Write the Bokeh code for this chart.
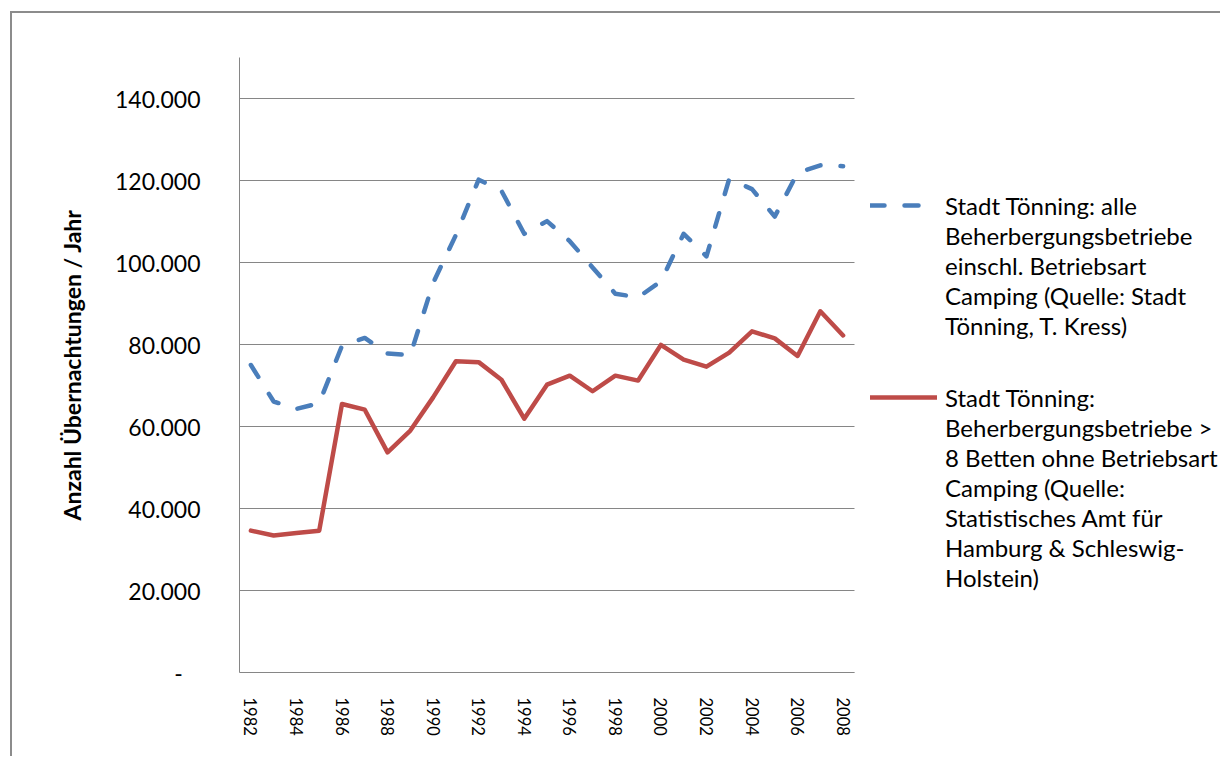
from bokeh.plotting import figure
from bokeh.models import FixedTicker, Legend, LegendItem, Range1d
from bokeh.embed import file_html
from bokeh.resources import INLINE

# ---- data ----
years = [1982, 1983, 1984, 1985, 1986, 1987, 1988, 1989, 1990, 1991, 1992, 1993, 1994,
         1995, 1996, 1997, 1998, 1999, 2000, 2001, 2002, 2003, 2004, 2005, 2006, 2007, 2008]
alle_betriebe = [75000, 66100, 64300, 65700, 79700, 81600, 77800, 77400, 95000, 106700,
                 120200, 117500, 107000, 110100, 105200, 98800, 92400, 91500, 95400, 107000,
                 101500, 120400, 117900, 111200, 121900, 123700, 123500]
ohne_camping = [34600, 33400, 34000, 34600, 65500, 64100, 53700, 59000, 67100, 75900,
                75700, 71400, 61900, 70200, 72400, 68600, 72400, 71200, 79900, 76300,
                74600, 78000, 83200, 81500, 77200, 88100, 82200]
x_tick_values = [1982, 1984, 1986, 1988, 1990, 1992, 1994, 1996, 1998, 2000, 2002, 2004, 2006, 2008]
x_tick_labels = ["1982", "1984", "1986", "1988", "1990", "1992", "1994", "1996", "1998",
                 "2000", "2002", "2004", "2006", "2008"]
y_tick_values = [0, 20000, 40000, 60000, 80000, 100000, 120000, 140000]
y_tick_labels = ["-\u00a0\u00a0\u00a0", "20.000", "40.000", "60.000", "80.000",
                 "100.000", "120.000", "140.000"]
y_title = "Anzahl Übernachtungen / Jahr"
legend_blue = ["Stadt Tönning: alle", "Beherbergungsbetriebe", "einschl. Betriebsart",
               "Camping (Quelle: Stadt", "Tönning, T. Kress)"]
legend_red = ["Stadt Tönning:", "Beherbergungsbetriebe >", "8 Betten ohne Betriebsart",
              "Camping (Quelle:", "Statistisches Amt für", "Hamburg & Schleswig-", "Holstein)"]

BLUE = "#4A7EBB"
RED = "#BE4B48"
GRID = "#868686"
FONT = "Lato"

# plot area: 27 year slots over 615 px; the frame continues to the right to hold the legend
X0, X1 = 1981.5, 2008.5
FRAME_W = 983
x_end = X0 + FRAME_W * (X1 - X0) / 615.0

p = figure(width=1210, height=745,
           x_range=Range1d(X0, x_end), y_range=Range1d(0, 150000),
           output_backend="svg", toolbar_location=None,
           min_border_left=227, min_border_right=0,
           min_border_top=44, min_border_bottom=86,
           background_fill_color="white", border_fill_color="white",
           styles={"border-left": "2px solid #8c8c8c", "border-top": "2px solid #8c8c8c",
                   "margin-left": "10px", "margin-top": "11px"})
p.outline_line_color = None

# y axis
p.yaxis.ticker = FixedTicker(ticks=y_tick_values)
p.yaxis.major_label_overrides = dict(zip(y_tick_values, y_tick_labels))
p.yaxis.major_tick_out = 0
p.yaxis.major_tick_in = 0
p.yaxis.minor_tick_out = 0
p.yaxis.minor_tick_in = 0
p.yaxis.major_label_standoff = 39
p.yaxis.axis_line_color = GRID
p.yaxis.major_label_text_font = FONT
p.yaxis.major_label_text_font_size = "23px"
p.yaxis.major_label_text_color = "#000000"
p.yaxis.axis_label = y_title
p.yaxis.axis_label_text_font = FONT
p.yaxis.axis_label_text_font_style = "bold"
p.yaxis.axis_label_text_font_size = "23px"
p.yaxis.axis_label_text_color = "#000000"
p.yaxis.axis_label_standoff = 26

# x axis: its line is limited to the plot area via bounds
p.xaxis.bounds = (X0, X1)
p.xaxis.ticker = FixedTicker(ticks=x_tick_values)
p.xaxis.major_label_overrides = dict(zip(x_tick_values, x_tick_labels))
p.xaxis.major_label_orientation = "vertical"
p.xaxis.major_tick_out = 0
p.xaxis.major_tick_in = 0
p.xaxis.minor_tick_out = 0
p.xaxis.minor_tick_in = 0
p.xaxis.major_label_standoff = 25
p.xaxis.axis_line_color = GRID
p.xaxis.axis_line_width = 1
p.xaxis.major_label_text_font = FONT
p.xaxis.major_label_text_font_size = "16.5px"
p.xaxis.major_label_text_color = "#000000"

p.xgrid.visible = False
p.ygrid.visible = False

# horizontal gridlines, limited to the plot area
n = len(y_tick_values)
p.segment(x0=[X0] * n, x1=[X1] * n, y0=y_tick_values, y1=y_tick_values,
          line_color=GRID, line_width=1)

r_blue = p.line(years, alle_betriebe, line_color=BLUE, line_width=4.5,
                line_dash="14 20", line_cap="round", line_join="round")
r_red = p.line(years, ohne_camping, line_color=RED, line_width=4.5,
               line_join="round", line_cap="round")

dummy = p.line([], [], line_alpha=0)


def make_legend(lines, renderer, loc, gw, standoff):
    items = [LegendItem(label=lines[0], renderers=[renderer])]
    for t in lines[1:]:
        items.append(LegendItem(label=t, renderers=[dummy]))
    return Legend(items=items, location=loc, orientation="vertical",
                  padding=0, margin=0, spacing=0,
                  label_height=30, glyph_height=30, glyph_width=gw,
                  label_standoff=standoff, border_line_color=None,
                  background_fill_alpha=0,
                  label_text_font=FONT, label_text_font_size="24px",
                  label_text_color="#000000")


# locations in px from the frame's bottom-left corner
p.add_layout(make_legend(legend_blue, r_blue, (631, 332), 55, 20))
p.add_layout(make_legend(legend_red, r_red, (631, 80), 67, 8))

open("out.html", "w").write(file_html(p, INLINE))
